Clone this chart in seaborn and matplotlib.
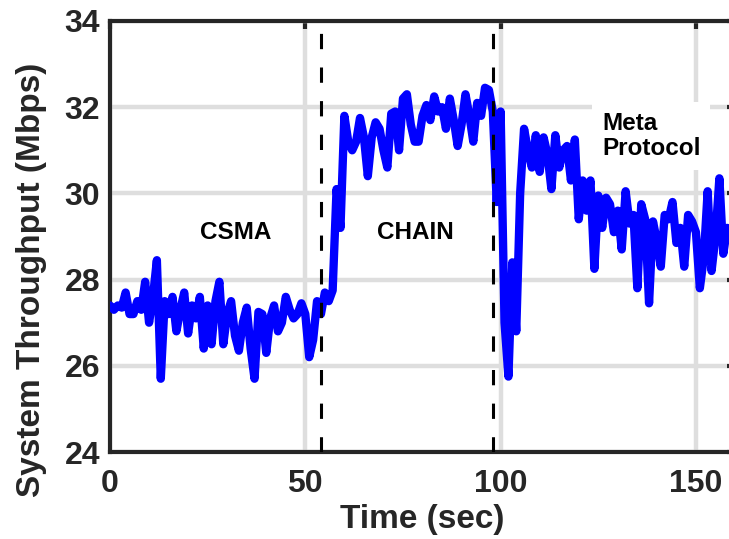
import numpy as np
import pandas as pd
import matplotlib
matplotlib.use('Agg')
import matplotlib.pyplot as plt
import seaborn as sns

# --- DATA (one sample per second) ---
time_sec = list(range(0, 159))
throughput_mbps = [
    # CSMA phase (0-53 s)
    27.4, 27.3, 27.4, 27.35, 27.7, 27.2, 27.2, 27.5, 27.3, 27.95,
    27.0, 27.6, 28.45, 25.7, 27.5, 27.2, 27.6, 26.8, 27.3, 27.7,
    26.75, 27.4, 27.1, 27.6, 26.4, 27.4, 26.5, 27.5, 27.95, 26.5,
    27.2, 27.5, 26.7, 26.35, 27.0, 27.35, 26.4, 25.7, 27.25, 27.2,
    26.3, 27.1, 27.4, 26.8, 27.0, 27.6, 27.3, 27.1, 27.2, 27.45,
    27.2, 26.2, 26.6, 27.5,
    # CHAIN phase (54-97 s)
    27.2, 27.7, 27.5, 27.75, 30.1, 29.2, 31.8, 31.2, 31.0, 31.2,
    31.75, 31.3, 30.4, 31.3, 31.65, 31.5, 31.0, 30.6, 31.85, 31.9,
    31.0, 32.2, 32.3, 31.6, 31.2, 31.2, 31.8, 32.05, 31.7, 32.25,
    31.9, 32.0, 31.5, 32.2, 31.7, 31.1, 31.6, 32.3, 31.8, 31.2,
    32.1, 31.8, 32.45, 32.4,
    # Meta protocol phase (98-158 s)
    31.9, 29.8, 31.9, 27.0, 25.75, 28.4, 26.8, 30.0, 31.5, 31.0,
    30.6, 31.35, 30.5, 31.3, 30.9, 30.1, 31.35, 30.6, 31.0, 31.1,
    30.3, 31.25, 29.4, 30.3, 29.6, 30.3, 28.25, 29.95, 29.2, 29.9,
    29.75, 29.1, 29.6, 28.7, 30.05, 29.3, 29.5, 27.8, 29.75, 29.4,
    27.45, 29.35, 28.9, 28.3, 29.5, 29.4, 29.8, 28.85, 29.2, 28.3,
    29.5, 29.35, 29.1, 27.8, 28.5, 30.05, 28.2, 29.0, 30.35, 28.6,
    29.2,
]
phase_switch_times = [54.0, 98.1]
phase_labels = ['CSMA', 'CHAIN', 'Meta\nProtocol']
x_ticks = [0, 50, 100, 150]
y_ticks = [24, 26, 28, 30, 32, 34]

df = pd.DataFrame({'time': time_sec, 'throughput': throughput_mbps})

# --- STYLE ---
sns.set_theme(style='whitegrid')
plt.rcParams['font.family'] = ['Liberation Sans', 'DejaVu Sans']
plt.rcParams['font.weight'] = 'bold'
plt.rcParams['axes.labelweight'] = 'bold'

fig = plt.figure(figsize=(7.29, 5.39), dpi=100)
# axes run slightly past the right edge of the picture, like the reference crop
ax = fig.add_axes([110 / 729, 87 / 539, 625 / 729, 431 / 539])

sns.lineplot(data=df, x='time', y='throughput', color='#0000ff',
             linewidth=6, ax=ax, zorder=3)

for t in phase_switch_times:
    ax.axvline(t, color='black', linewidth=2.2, linestyle=(0, (5, 6)), zorder=4)

ax.text(32.3, 29.1, phase_labels[0], ha='center', va='center', fontsize=17.5,
        fontweight='bold', color='black', zorder=5)
ax.text(78.1, 29.1, phase_labels[1], ha='center', va='center', fontsize=17.5,
        fontweight='bold', color='black', zorder=5)
ax.text(126.0, 31.33, phase_labels[2], ha='left', va='center', fontsize=17.5,
        fontweight='bold', color='black', linespacing=1.15, zorder=5,
        bbox=dict(facecolor='white', edgecolor='none', pad=7))

ax.set_xlim(0, 160)
ax.set_ylim(24, 34)
ax.set_xticks(x_ticks)
ax.set_yticks(y_ticks)
ax.set_xlabel('Time (sec)', fontsize=24, fontweight='bold', labelpad=4)
ax.set_ylabel('System Throughput (Mbps)', fontsize=24, fontweight='bold')
# the reference label sits a little below the axes centre
ax.yaxis.set_label_coords(-0.10, 0.40)

ax.grid(True, color='#dedede', linewidth=3.2)
ax.set_axisbelow(True)
for side in ['left', 'bottom', 'top', 'right']:
    ax.spines[side].set_visible(True)
    ax.spines[side].set_color('#262626')
    ax.spines[side].set_linewidth(3)
ax.tick_params(axis='both', which='major', direction='in', length=6, width=3,
               color='#262626', labelsize=23, labelcolor='#262626',
               top=True, right=True)
ax.tick_params(axis='x', pad=12)
ax.tick_params(axis='y', pad=7)
for lbl in ax.get_xticklabels() + ax.get_yticklabels():
    lbl.set_fontweight('bold')
ax.xaxis.label.set_color('#262626')
ax.yaxis.label.set_color('#262626')

fig.savefig('out.png', dpi=100)
plt.close()
